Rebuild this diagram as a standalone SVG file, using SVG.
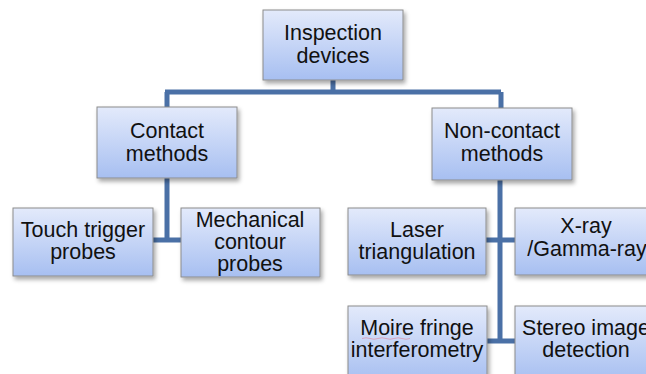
<svg xmlns="http://www.w3.org/2000/svg" width="646" height="374" viewBox="0 0 646 374">
  <defs>
    <linearGradient id="boxFill" x1="0" y1="0" x2="0" y2="1">
      <stop offset="0" stop-color="#e3eafb"/>
      <stop offset="1" stop-color="#a7bff1"/>
    </linearGradient>
    <filter id="shadow" x="-10%" y="-10%" width="130%" height="140%">
      <feDropShadow dx="2" dy="3" stdDeviation="2" flood-color="#000" flood-opacity="0.35"/>
    </filter>
    <style>
      .box { fill: url(#boxFill); stroke: #8c8c8c; stroke-width: 1; filter: url(#shadow); }
      .lbl { font-family: "Liberation Sans", Arial, sans-serif; font-size: 21.5px; fill: #111; text-anchor: middle; }
      .link { fill: none; stroke: #4a70a6; stroke-width: 5; }
    </style>
  </defs>
  <rect width="646" height="374" fill="#fff"/>

  <!-- connectors -->
  <g id="connectors">
    <path class="link" d="M333 80 V92 M165 92 H501 M167 92 V107 M501 92 V108"/>
    <path class="link" d="M167 178 V240 M153 240 H181"/>
    <path class="link" d="M500 180 V341 M486 240 H515 M487 341 H515"/>
  </g>

  <g id="inspection-devices">
    <rect class="box" x="263" y="10" width="140" height="70"/>
    <text class="lbl" x="333" y="40">Inspection</text>
    <text class="lbl" x="333" y="63">devices</text>
  </g>

  <g id="contact-methods">
    <rect class="box" x="97" y="107" width="140" height="71"/>
    <text class="lbl" x="167" y="138">Contact</text>
    <text class="lbl" x="167" y="161">methods</text>
  </g>

  <g id="non-contact-methods">
    <rect class="box" x="432" y="108" width="140" height="72"/>
    <text class="lbl" x="502" y="138">Non-contact</text>
    <text class="lbl" x="502" y="161">methods</text>
  </g>

  <g id="touch-trigger-probes">
    <rect class="box" x="13" y="208" width="140" height="68"/>
    <text class="lbl" x="83" y="237">Touch trigger</text>
    <text class="lbl" x="83" y="259">probes</text>
  </g>

  <g id="mechanical-contour-probes">
    <rect class="box" x="181" y="208" width="139" height="69"/>
    <text class="lbl" x="250" y="227">Mechanical</text>
    <text class="lbl" x="250" y="249">contour</text>
    <text class="lbl" x="250" y="271">probes</text>
  </g>

  <g id="laser-triangulation">
    <rect class="box" x="348" y="208" width="138" height="67"/>
    <text class="lbl" x="417" y="237">Laser</text>
    <text class="lbl" x="417" y="259">triangulation</text>
  </g>

  <g id="x-ray-gamma-ray">
    <rect class="box" x="515" y="208" width="140" height="67"/>
    <text class="lbl" x="586" y="233">X-ray</text>
    <text class="lbl" x="587" y="256">/Gamma-ray</text>
  </g>

  <g id="moire-fringe-interferometry">
    <rect class="box" x="348" y="306" width="139" height="75"/>
    <text class="lbl" x="417" y="335">Moire fringe</text>
    <text class="lbl" x="417" y="357">interferometry</text>
    <path d="M362 338.5 Q366 337 370 338.5 T378 338.5 T386 338.5 T394 338.5 T402 338.5 T410 338.5" fill="none" stroke="#e07a8e" stroke-width="0.8" opacity="0.7"/>
  </g>

  <g id="stereo-image-detection">
    <rect class="box" x="515" y="306" width="140" height="75"/>
    <text class="lbl" x="586" y="335">Stereo image</text>
    <text class="lbl" x="586" y="357">detection</text>
  </g>
</svg>
